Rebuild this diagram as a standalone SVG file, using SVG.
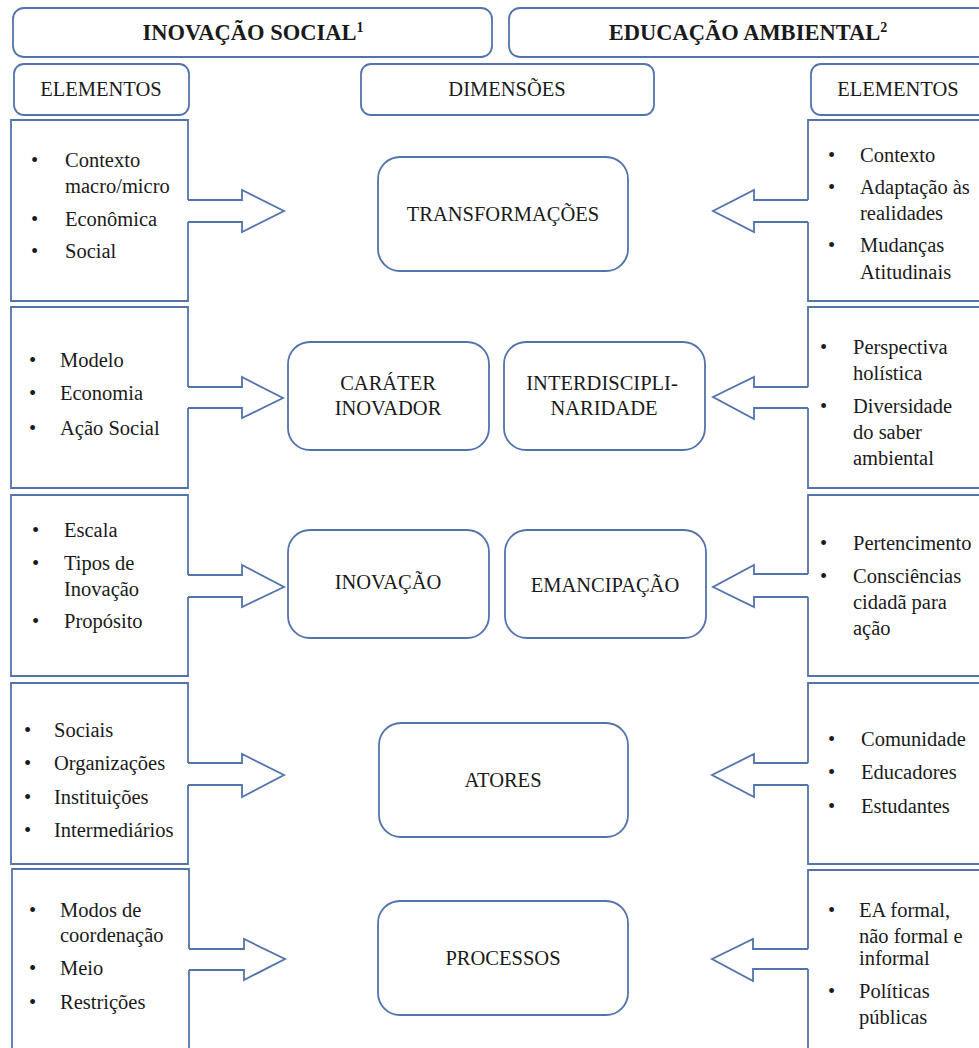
<svg xmlns="http://www.w3.org/2000/svg" width="979" height="1048" viewBox="0 0 979 1048">
<style>
.b{fill:none;stroke:#5373ad;stroke-width:1.8;stroke-linejoin:miter}
.r{fill:#fff;stroke:#5373ad;stroke-width:1.8}
.a{fill:none;stroke:#5373ad;stroke-width:1.8;stroke-linejoin:miter}
text{font-family:"Liberation Serif","Times New Roman",serif;font-size:20.5px;fill:#1a1a1a}
.h{font-weight:bold;font-size:22.5px;text-anchor:middle}
.c{text-anchor:middle}
.sup{font-size:14px}
</style>
<rect width="979" height="1048" fill="#fff"/>

<g id="header-inovacao"><rect class="r" x="13" y="8" width="479" height="49" rx="11"/><text class="h" x="253" y="40">INOVAÇÃO SOCIAL<tspan class="sup" dy="-8">1</tspan></text></g>
<g id="header-educacao"><rect class="r" x="509" y="8" width="480" height="49" rx="11"/><text class="h" x="748" y="40">EDUCAÇÃO AMBIENTAL<tspan class="sup" dy="-8">2</tspan></text></g>
<g id="elementos-left"><rect class="r" x="14" y="64" width="175" height="51" rx="10"/><text class="c" x="101" y="96">ELEMENTOS</text></g>
<g id="dimensoes"><rect class="r" x="361" y="64" width="293" height="51" rx="10"/><text class="c" x="507" y="96">DIMENSÕES</text></g>
<g id="elementos-right"><rect class="r" x="811" y="64" width="180" height="51" rx="10"/><text class="c" x="898" y="96">ELEMENTOS</text></g>

<g id="left-1"><path class="b" d="M188,200 V120 H11 V301 H188 V222"/>
<text x="31" y="167">•</text><text x="65" y="167">Contexto</text><text x="65" y="193">macro/micro</text>
<text x="31" y="226">•</text><text x="65" y="226">Econômica</text>
<text x="31" y="258">•</text><text x="65" y="258">Social</text></g>

<g id="left-2"><path class="b" d="M188,387 V307 H11 V488 H188 V408"/>
<text x="29" y="367">•</text><text x="60" y="367">Modelo</text>
<text x="29" y="400">•</text><text x="60" y="400">Economia</text>
<text x="29" y="435">•</text><text x="60" y="435">Ação Social</text></g>

<g id="left-3"><path class="b" d="M188,575 V495 H11 V676 H188 V597"/>
<text x="32" y="537">•</text><text x="64" y="537">Escala</text>
<text x="32" y="570">•</text><text x="64" y="570">Tipos de</text><text x="64" y="596">Inovação</text>
<text x="32" y="628">•</text><text x="64" y="628">Propósito</text></g>

<g id="left-4"><path class="b" d="M188,763 V683 H11 V864 H188 V785"/>
<text x="24" y="737">•</text><text x="54" y="737">Sociais</text>
<text x="24" y="770">•</text><text x="54" y="770">Organizações</text>
<text x="24" y="804">•</text><text x="54" y="804">Instituições</text>
<text x="24" y="837">•</text><text x="54" y="837">Intermediários</text></g>

<g id="left-5"><path class="b" d="M189,949 V869 H12 V1052 M189,1052 V970"/>
<text x="29" y="917">•</text><text x="60" y="917">Modos de</text><text x="60" y="942">coordenação</text>
<text x="29" y="975">•</text><text x="60" y="975">Meio</text>
<text x="29" y="1009">•</text><text x="60" y="1009">Restrições</text></g>

<g id="right-1"><path class="b" d="M808,200 V120 H990 M990,301 H808 V222"/>
<text x="828" y="162">•</text><text x="860" y="162">Contexto</text>
<text x="828" y="194">•</text><text x="860" y="194">Adaptação às</text><text x="860" y="220">realidades</text>
<text x="828" y="252">•</text><text x="860" y="252">Mudanças</text><text x="860" y="279">Atitudinais</text></g>

<g id="right-2"><path class="b" d="M808,387 V307 H990 M990,488 H808 V408"/>
<text x="820" y="354">•</text><text x="853" y="354">Perspectiva</text><text x="853" y="380">holística</text>
<text x="820" y="413">•</text><text x="853" y="413">Diversidade</text><text x="853" y="439">do saber</text><text x="853" y="465">ambiental</text></g>

<g id="right-3"><path class="b" d="M808,574 V495 H990 M990,676 H808 V597"/>
<text x="820" y="550">•</text><text x="853" y="550">Pertencimento</text>
<text x="820" y="583">•</text><text x="853" y="583">Consciências</text><text x="853" y="609">cidadã para</text><text x="853" y="635">ação</text></g>

<g id="right-4"><path class="b" d="M808,763 V683 H990 M990,864 H808 V785"/>
<text x="828" y="746">•</text><text x="861" y="746">Comunidade</text>
<text x="828" y="779">•</text><text x="861" y="779">Educadores</text>
<text x="828" y="813">•</text><text x="861" y="813">Estudantes</text></g>

<g id="right-5"><path class="b" d="M808,949 V870 H990 M808,969 V1052"/>
<text x="828" y="917">•</text><text x="859" y="917">EA formal,</text><text x="859" y="943">não formal e</text><text x="859" y="965">informal</text>
<text x="828" y="998">•</text><text x="859" y="998">Políticas</text><text x="859" y="1024">públicas</text></g>

<g id="dim-transformacoes"><rect class="r" x="378" y="157" width="250" height="114" rx="22"/><text class="c" x="503" y="221">TRANSFORMAÇÕES</text></g>
<g id="dim-carater"><rect class="r" x="288" y="342" width="201" height="108" rx="22"/><text class="c" x="388" y="390">CARÁTER</text><text class="c" x="388" y="415">INOVADOR</text></g>
<g id="dim-interdisciplinaridade"><rect class="r" x="504" y="342" width="201" height="108" rx="22"/><text class="c" x="602" y="390">INTERDISCIPLI-</text><text class="c" x="604" y="415">NARIDADE</text></g>
<g id="dim-inovacao"><rect class="r" x="288" y="530" width="201" height="108" rx="22"/><text class="c" x="388" y="589">INOVAÇÃO</text></g>
<g id="dim-emancipacao"><rect class="r" x="505" y="530" width="201" height="108" rx="22"/><text class="c" x="605" y="592">EMANCIPAÇÃO</text></g>
<g id="dim-atores"><rect class="r" x="379" y="723" width="249" height="114" rx="22"/><text class="c" x="503" y="787">ATORES</text></g>
<g id="dim-processos"><rect class="r" x="378" y="901" width="250" height="114" rx="22"/><text class="c" x="503" y="965">PROCESSOS</text></g>

<g id="connectors">
<path class="a" d="M188,200 H242 V190 L284,211 L242,232 V222 H188"/>
<path class="a" d="M188,387 H242 V377 L283,398 L242,418 V408 H188"/>
<path class="a" d="M188,575 H242 V565 L284,587 L242,607 V597 H188"/>
<path class="a" d="M188,763 H242 V754 L284,775 L242,797 V785 H188"/>
<path class="a" d="M189,949 H244 V939 L285,959 L244,980 V970 H189"/>
<path class="a" d="M808,200 H754 V190 L713,211 L754,232 V222 H808"/>
<path class="a" d="M808,387 H754 V377 L713,397 L754,419 V408 H808"/>
<path class="a" d="M808,574 H754 V565 L713,587 L754,607 V597 H808"/>
<path class="a" d="M808,763 H754 V754 L712,775 L754,797 V785 H808"/>
<path class="a" d="M808,949 H753 V939 L712,959 L753,981 V969 H808"/>
</g>
</svg>
